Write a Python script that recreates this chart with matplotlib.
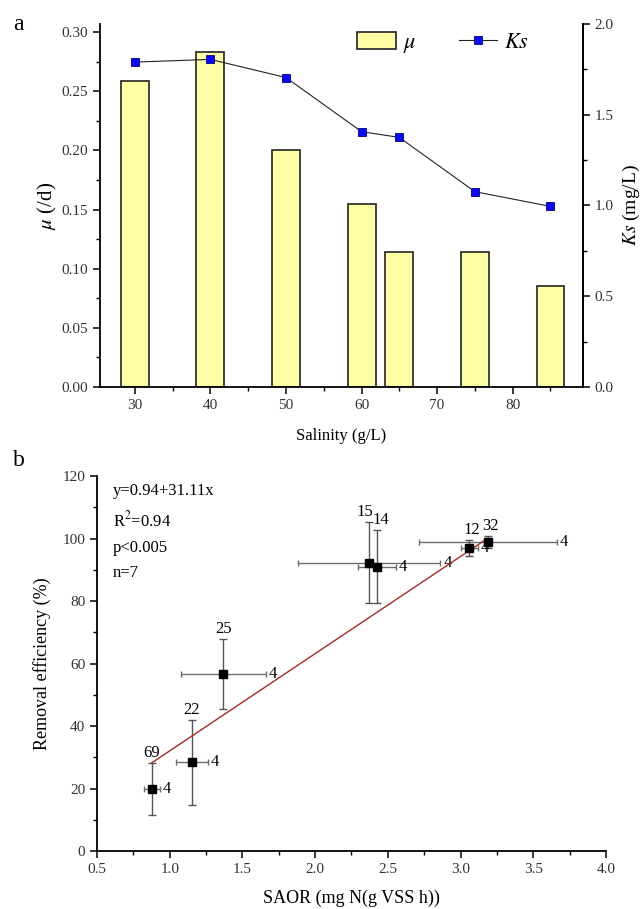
import numpy as np
import matplotlib
matplotlib.use("Agg")
import matplotlib.pyplot as plt

plt.rcParams['font.family'] = ['Liberation Serif', 'DejaVu Serif']
plt.rcParams['mathtext.fontset'] = 'stix'

# panel a: growth rate and half-saturation constant vs salinity
salinity = [30, 40, 50, 60, 65, 75, 85]
mu_vals = [0.259, 0.283, 0.200, 0.155, 0.114, 0.114, 0.085]
ks_vals = [1.79, 1.805, 1.705, 1.407, 1.375, 1.076, 0.995]

# panel b: removal efficiency vs SAOR
saor = [0.876, 1.151, 1.369, 2.371, 2.424, 3.061, 3.187]
saor_err = [0.055, 0.11, 0.29, 0.49, 0.13, 0.06, 0.475]
removal = [19.8, 28.4, 56.7, 92.3, 91.0, 96.9, 98.9]
removal_err = [8.4, 13.6, 11.1, 13.0, 11.6, 2.6, 2.0]
top_labels = ['69', '22', '25', '15', '14', '12', '32']
right_labels = ['4', '4', '4', '4', '4', '4', '4']
fit_a, fit_b = 0.94, 31.11

fig = plt.figure(figsize=(6.41, 9.09), dpi=100)

# ---- panel a ----
ax1 = fig.add_axes([0.156, 0.5743, 0.7535, 0.3993])
bars = ax1.bar(salinity, mu_vals, width=3.7, color='#ffffa6', edgecolor='#222222',
               linewidth=1.2, label=r'$\mu$')
ax1.set_xlim(25.4, 89.3)
ax1.set_ylim(0, 0.3068)
ax1.set_xticks([30, 40, 50, 60, 70, 80])
ax1.set_xticks([35, 45, 55, 65, 75, 85], minor=True)
ax1.set_yticks(np.arange(0, 0.31, 0.05))
ax1.set_yticks(np.arange(0.025, 0.3, 0.05), minor=True)
ax1.yaxis.set_major_formatter(matplotlib.ticker.FormatStrFormatter('%.2f'))
ax1.set_xlabel('Salinity (g/L)', fontsize=12, labelpad=12)
ax1.set_ylabel(r'$\mu$ (/d)', fontsize=15, labelpad=2)

ax2 = ax1.twinx()
line, = ax2.plot(salinity, ks_vals, color='#222222', lw=0.8, marker='s', ms=6,
                 mfc='#0a0aff', mec='#000080', mew=0.6, label=r'$Ks$')
ax2.set_ylim(0, 2.0)
ax2.set_yticks([0, 0.5, 1.0, 1.5, 2.0])
ax2.set_yticks([0.25, 0.75, 1.25, 1.75], minor=True)
ax2.set_ylabel(r'$Ks$ (mg/L)', fontsize=14, labelpad=5)

for ax in (ax1, ax2):
    ax.spines['top'].set_visible(False)
    for s in ax.spines.values():
        s.set_linewidth(1.3)
    ax.tick_params(which='major', direction='out', length=5, width=1.1,
                   labelsize=11, labelcolor='#333333')
    ax.tick_params(which='minor', direction='out', length=3, width=1.0)
ax2.spines['left'].set_visible(False)
ax2.spines['bottom'].set_visible(False)

ax1.legend(handles=[bars, line], ncol=2, frameon=False, fontsize=16,
           loc='upper left', bbox_to_anchor=(0.540, 0.977),
           bbox_transform=fig.transFigure, handlelength=1.75, handleheight=0.8,
           columnspacing=1.9, handletextpad=0.3, borderpad=0, numpoints=1)

fig.text(0.02, 0.985, 'a', fontsize=17, va='top')

# ---- panel b ----
ax3 = fig.add_axes([0.1513, 0.0638, 0.7941, 0.4125])
ax3.errorbar(saor, removal, xerr=saor_err, fmt='none', ecolor='#6e6e6e',
             elinewidth=1.0, capsize=2.5, capthick=1.0)
ax3.errorbar(saor, removal, yerr=removal_err, fmt='none', ecolor='#555555',
             elinewidth=1.0, capsize=3, capthick=1.0)
ax3.plot(saor, removal, 's', color='black', ms=5.5, zorder=5)

xfit = np.array([min(saor), max(saor)])
ax3.plot(xfit, fit_a + fit_b * xfit, color='#a52a2a', lw=1.0, zorder=4)

label_dx = [0, 0, 0, -3, 3, 2, 2]
for i in range(len(saor)):
    ax3.annotate(top_labels[i], (saor[i], removal[i] + removal_err[i]),
                 xytext=(label_dx[i], 1.5), textcoords='offset points',
                 ha='center', va='bottom', fontsize=12)
    ax3.annotate(right_labels[i], (saor[i] + saor_err[i], removal[i]),
                 xytext=(2, 0), textcoords='offset points',
                 ha='left', va='center', fontsize=12)

ax3.text(0.031, 0.982, 'y=0.94+31.11x\nR$^2$=0.94\np<0.005\nn=7',
         transform=ax3.transAxes, fontsize=12, va='top', linespacing=1.75)

ax3.set_xlim(0.5, 4.0)
ax3.set_ylim(0, 120)
ax3.set_xticks(np.arange(0.5, 4.01, 0.5))
ax3.set_xticks(np.arange(0.75, 4.0, 0.5), minor=True)
ax3.set_yticks(np.arange(0, 121, 20))
ax3.set_yticks(np.arange(10, 120, 20), minor=True)
ax3.spines['top'].set_visible(False)
ax3.spines['right'].set_visible(False)
for s in ax3.spines.values():
    s.set_linewidth(1.3)
ax3.tick_params(which='major', direction='out', length=5, width=1.1,
                labelsize=11, labelcolor='#333333')
ax3.tick_params(which='minor', direction='out', length=3, width=1.0)
ax3.set_xlabel('SAOR (mg N(g VSS h))', fontsize=13, labelpad=10)
ax3.set_ylabel('Removal efficiency (%)', fontsize=13, labelpad=8)

fig.text(0.02, 0.505, 'b', fontsize=17, va='top')

fig.savefig('out.png', dpi=100)
